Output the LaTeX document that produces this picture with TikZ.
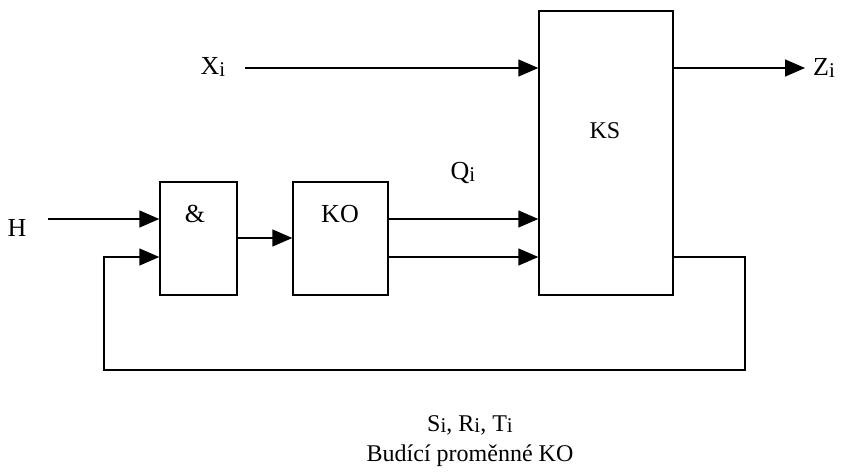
\documentclass[tikz,border=0pt]{standalone}
\usepackage{fontspec}
\setmainfont{Liberation Serif}
\usetikzlibrary{arrows.meta}
\newcommand{\lowi}{\raisebox{-1.5pt}{\fontsize{21}{21}\selectfont i}}
\tikzset{
  blk/.style={draw, line width=1.4pt, inner sep=0pt},
  txt/.style={inner sep=0pt, font=\fontsize{26}{31}\selectfont},
  btxt/.style={inner sep=0pt, font=\fontsize{24}{29}\selectfont},
  wire/.style={line width=1.4pt},
  arr/.style={line width=1.4pt, -{Triangle[length=20pt,width=17pt]}},
}
\begin{document}
\begin{tikzpicture}[x=1pt,y=-1pt]
\useasboundingbox (0,0) rectangle (866,473);
% blocks
\node[blk, minimum width=134pt, minimum height=284pt] (ks) at (606,153) {};
\node[blk, minimum width=77pt, minimum height=113pt] (and) at (198.5,238.5) {};
\node[blk, minimum width=95pt, minimum height=113pt] (ko) at (340.5,238.5) {};
% block texts
\node[btxt] (kst) at (605,131) {KS};
\node[txt] (andt) at (195,214) {\&};
\node[txt] (kot) at (340,214) {KO};
% labels
\node[txt] (xi) at (213,67) {X\lowi};
\node[txt] (zi) at (824,68) {Z\lowi};
\node[txt] (h) at (17,228) {H};
\node[txt] (qi) at (463,173) {Q\lowi};
\node[btxt] (sri) at (470,425) {S\lowi, R\lowi, T\lowi};
\node[btxt] (bud) at (470,456) {Budící proměnné KO};
% coordinates
\coordinate (xs) at (245,68);
\coordinate (zs) at (805,68);
\coordinate (hs) at (48,219);
\coordinate (fb1) at (745,257);
\coordinate (fb2) at (745,370);
\coordinate (fb3) at (104,370);
\coordinate (fb4) at (104,257);
% connectors
\draw[arr] (xs) -- (ks.west |- xs);
\draw[arr] (ks.east |- zs) -- (zs);
\draw[arr] (hs) -- (and.west |- hs);
\draw[arr] (and.east |- 0,238) -- (ko.west |- 0,238);
\draw[arr] (ko.east |- 0,219) -- (ks.west |- 0,219);
\draw[arr] (ko.east |- 0,257) -- (ks.west |- 0,257);
\draw[arr] (ks.east |- fb1) -- (fb1) -- (fb2) -- (fb3) -- (fb4) -- (and.west |- fb4);
\end{tikzpicture}
\end{document}
